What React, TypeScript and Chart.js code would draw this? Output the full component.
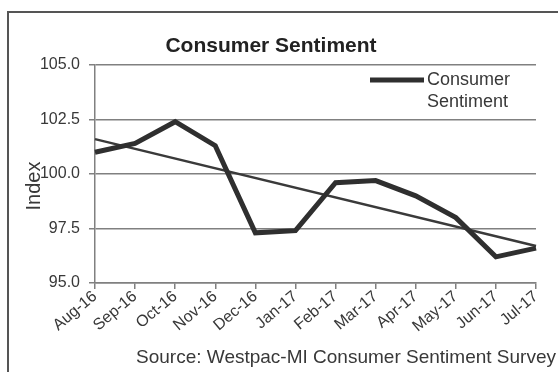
import React, { useEffect, useRef } from "react";
import { Chart, registerables } from "chart.js";

Chart.register(...registerables);

const categories = ["Aug-16", "Sep-16", "Oct-16", "Nov-16", "Dec-16", "Jan-17", "Feb-17", "Mar-17", "Apr-17", "May-17", "Jun-17", "Jul-17"];
const sentimentValues = [101.0, 101.4, 102.4, 101.3, 97.3, 97.4, 99.6, 99.7, 99.0, 98.0, 96.2, 96.6];
// trend line endpoints (first and last month)
const trendValues: (number | null)[] = [101.6, null, null, null, null, null, null, null, null, null, null, 96.7];
const yTicks = [95.0, 97.5, 100.0, 102.5, 105.0];

const titleText = "Consumer Sentiment";
const legendLines = ["Consumer", "Sentiment"];
const yTitle = "Index";
const sourceText = "Source: Westpac-MI Consumer Sentiment Survey";

const FONT = "'Liberation Sans', Arial, sans-serif";
const TEXT = "#383838";

const textPlugin = {
  id: "textPlugin",
  afterDraw(chart: any) {
    const ctx = chart.ctx;
    const ca = chart.chartArea;
    ctx.save();
    // Title
    ctx.fillStyle = "#222";
    ctx.font = `bold 21px ${FONT}`;
    ctx.textAlign = "center";
    ctx.textBaseline = "middle";
    ctx.fillText(titleText, 271, 46);
    // Legend
    ctx.strokeStyle = "#2f2f2f";
    ctx.lineWidth = 5;
    ctx.beginPath();
    ctx.moveTo(370, ca.top + 15);
    ctx.lineTo(424, ca.top + 15);
    ctx.stroke();
    ctx.fillStyle = TEXT;
    ctx.font = `18px ${FONT}`;
    ctx.textAlign = "left";
    ctx.fillText(legendLines[0], 427, ca.top + 15);
    ctx.fillText(legendLines[1], 427, ca.top + 37);
    // Y title
    ctx.save();
    ctx.translate(34, 186);
    ctx.rotate(-Math.PI / 2);
    ctx.font = `20px ${FONT}`;
    ctx.textAlign = "center";
    ctx.fillText(yTitle, 0, 0);
    ctx.restore();
    // Source
    ctx.font = `19px ${FONT}`;
    ctx.textAlign = "center";
    ctx.fillText(sourceText, 346, 358);
    ctx.restore();
  },
};

export default function App() {
  const ref = useRef<HTMLCanvasElement>(null);
  useEffect(() => {
    const chart = new Chart(ref.current!, {
      type: "line",
      data: {
        labels: categories,
        datasets: [
          {
            label: "Consumer Sentiment",
            data: sentimentValues,
            borderColor: "#2f2f2f",
            borderWidth: 5,
            pointRadius: 0,
            tension: 0,
            borderJoinStyle: "miter",
          },
          {
            label: "Trend",
            data: trendValues,
            borderColor: "#3a3a3a",
            borderWidth: 2.5,
            pointRadius: 0,
            spanGaps: true,
          },
        ],
      },
      options: {
        responsive: false,
        animation: false,
        layout: { padding: { left: 0, right: 22, top: 65, bottom: 0 } },
        plugins: { legend: { display: false }, title: { display: false }, tooltip: { enabled: false } },
        scales: {
          x: {
            offset: false,
            afterFit: (s: any) => { s.height = 89; },
            grid: { drawOnChartArea: false, drawTicks: true, tickLength: 6, color: "#808080", lineWidth: 1.5 },
            border: { display: true, color: "#808080", width: 1.5 },
            ticks: { minRotation: 40, maxRotation: 40, autoSkip: false, color: TEXT, font: { family: FONT, size: 16 }, padding: -2 },
          },
          y: {
            min: 95,
            max: 105,
            afterFit: (s: any) => { s.width = 95; },
            afterBuildTicks: (s: any) => { s.ticks = yTicks.map((v) => ({ value: v })); },
            grid: { color: "#808080", lineWidth: 1.5, tickLength: 6 },
            border: { display: true, color: "#808080", width: 1.5 },
            ticks: { color: TEXT, font: { family: FONT, size: 16 }, padding: 9, callback: (v: any) => Number(v).toFixed(1) },
          },
        },
      },
      plugins: [textPlugin],
    });
    return () => chart.destroy();
  }, []);
  return (
    <div style={{ position: "absolute", left: 0, top: 0, width: 558, height: 372, overflow: "hidden", background: "#fff" }}>
      <div style={{ position: "absolute", left: 7, top: 11, width: 600, height: 400, border: "2px solid #555", boxSizing: "border-box" }} />
      <canvas ref={ref} width={558} height={372} style={{ position: "absolute", left: 0, top: 0 }} />
    </div>
  );
}
